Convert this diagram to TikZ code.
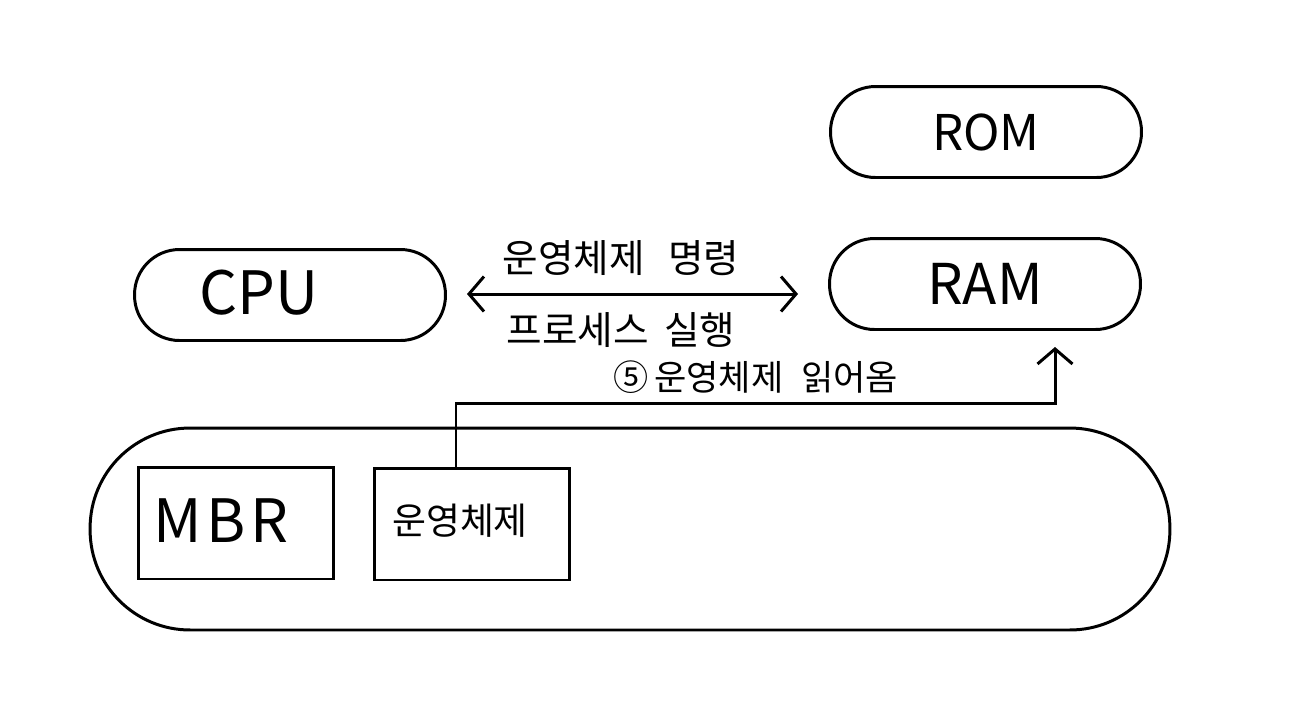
\documentclass[tikz,border=0pt]{standalone}
\usepackage{fontspec}
\setmainfont{Noto Sans CJK KR}
\usetikzlibrary{arrows.meta}
\newcommand{\krlbl}{\fontsize{22}{26}\selectfont}
\begin{document}
\begin{tikzpicture}[x=0.02cm,y=-0.02cm,line width=1.7pt,
  pill/.style={draw,rounded corners=0.9cm,minimum width=6.22cm,minimum height=1.82cm,inner sep=0pt},
  boxx/.style={draw,minimum width=3.92cm,minimum height=2.24cm,inner sep=0pt},
  lbl/.style={font=\krlbl},
  chev/.tip={Straight Barb[length=0.3cm,width=0.7cm,line width=1.7pt]}]
\fill[white] (0,0) rectangle (1298,708);
\node[pill] (rom) at (986,132) {\fontsize{28}{32}\selectfont ROM};
\node[pill] (ram) at (985,284) {\fontsize{32}{36}\selectfont RAM};
\node[pill] (cpu) at (290,295) {};
\node (cputxt) at (259,293) {\fontsize{34}{38}\selectfont CPU};
\node[draw,rounded corners=2cm,minimum width=21.6cm,minimum height=4.04cm,inner sep=0pt] (disk) at (630,529) {};
\node[boxx] (mbr) at (236,523) {};
\node (mbrtxt) at (221,521) {\fontsize{34}{38}\selectfont M\kern0.08em B\kern0.08em R};
\node[boxx] (os) at (472,524) {};
\node (ostxt) at (460,521) {\fontsize{21}{25}\selectfont 운영체제};
\coordinate (a1) at (467,294);
\coordinate (a2) at (798,294);
\draw[chev-chev] (a1) -- (a2);
\node[lbl] (t1) at (621,258) {운영체제\hspace{0.6em}명령};
\node[lbl] (t2) at (621,330) {프로세스\hspace{0.4em}실행};
\coordinate (c1) at (456,403);
\coordinate (c2) at (1055,403);
\coordinate (c3) at (1055,347);
\draw[-chev] (os.north -| c1) -- (c1) -- (c2) -- (c3);
\node[font=\fontsize{20}{24}\selectfont,anchor=south west] (t3) at (606,401) {⑤\,운영체제\hspace{0.5em}읽어옴};
\end{tikzpicture}
\end{document}
